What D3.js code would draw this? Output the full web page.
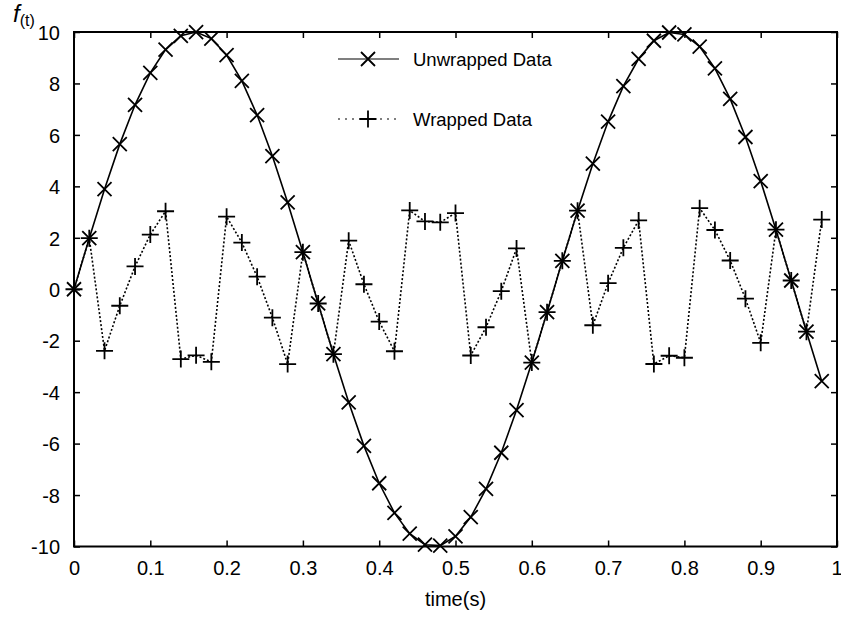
<!DOCTYPE html>
<html><head><meta charset="utf-8">
<script src="https://cdn.jsdelivr.net/npm/d3@7"></script>
<style>body{margin:0;background:#fff}svg{display:block}text{font-family:"Liberation Sans",Arial,sans-serif;fill:#000}</style>
</head><body><svg id="c" width="841" height="621"></svg>
<script>
const times = [0,0.02,0.04,0.06,0.08,0.10,0.12,0.14,0.16,0.18,0.20,0.22,0.24,0.26,0.28,0.30,0.32,0.34,0.36,0.38,0.40,0.42,0.44,0.46,0.48,0.50,0.52,0.54,0.56,0.58,0.60,0.62,0.64,0.66,0.68,0.70,0.72,0.74,0.76,0.78,0.80,0.82,0.84,0.86,0.88,0.90,0.92,0.94,0.96,0.98];
const unwrapped = [0,1.985,3.891,5.641,7.169,8.409,9.316,9.852,9.997,9.743,9.103,8.098,6.771,5.177,3.375,1.440,-0.553,-2.523,-4.394,-6.088,-7.541,-8.694,-9.503,-9.931,-9.965,-9.603,-8.858,-7.761,-6.356,-4.697,-2.850,-0.891,1.104,3.054,4.883,6.518,7.893,8.957,9.660,9.981,9.904,9.435,8.587,7.400,5.918,4.202,2.317,0.340,-1.650,-3.575];
const wrapped = [0,1.985,-2.392,-0.642,0.886,2.126,3.033,-2.714,-2.569,-2.823,2.820,1.815,0.488,-1.106,-2.908,1.440,-0.553,-2.523,1.889,0.195,-1.258,-2.411,3.063,2.635,2.601,2.963,-2.575,-1.478,-0.073,1.586,-2.850,-0.891,1.104,3.054,-1.400,0.235,1.610,2.674,-2.906,-2.585,-2.662,3.152,2.304,1.117,-0.365,-2.081,2.317,0.340,-1.650,2.708];
const xTicks = [0,0.1,0.2,0.3,0.4,0.5,0.6,0.7,0.8,0.9,1];
const xTickLabels = ["0","0.1","0.2","0.3","0.4","0.5","0.6","0.7","0.8","0.9","1"];
const yTicks = [-10,-8,-6,-4,-2,0,2,4,6,8,10];
const yTickLabels = ["-10","-8","-6","-4","-2","0","2","4","6","8","10"];
const seriesNames = ["Unwrapped Data","Wrapped Data"];

const L=74,R=837,T=32,B=546.5;
const svg=d3.select("#c");
const x=d3.scaleLinear().domain([0,1]).range([L,R]);
const y=d3.scaleLinear().domain([-10,10]).range([B,T]);

const gx=svg.append("g").attr("transform",`translate(0,${B})`).call(d3.axisBottom(x).tickValues(xTicks).tickSize(-6).tickPadding(14).tickFormat((d,i)=>xTickLabels[i]));
const gxt=svg.append("g").attr("transform",`translate(0,${T})`).call(d3.axisTop(x).tickValues(xTicks).tickSize(-6).tickFormat(""));
const gy=svg.append("g").attr("transform",`translate(${L},0)`).call(d3.axisLeft(y).tickValues(yTicks).tickSize(-6).tickPadding(14).tickFormat((d,i)=>yTickLabels[i]));
const gyr=svg.append("g").attr("transform",`translate(${R},0)`).call(d3.axisRight(y).tickValues(yTicks).tickSize(-6).tickFormat(""));
[gx,gxt,gy,gyr].forEach(g=>{g.select(".domain").remove();g.selectAll(".tick line").attr("stroke","#000").attr("stroke-width",1.5);});
gx.selectAll(".tick text").attr("font-size",20).attr("font-family","Liberation Sans, Arial, sans-serif").attr("dy","0.71em");
gx.selectAll(".tick text").filter((d,i)=>i===xTicks.length-1).attr("text-anchor","end").attr("dx",5);
gy.selectAll(".tick text").attr("font-size",20).attr("font-family","Liberation Sans, Arial, sans-serif").attr("dy","0.36em");
svg.append("rect").attr("x",L).attr("y",T).attr("width",R-L).attr("height",B-T).attr("fill","none").attr("stroke","#000").attr("stroke-width",2);

const pts1=times.map((t,i)=>[t,unwrapped[i]]);
const pts2=times.map((t,i)=>[t,wrapped[i]]);
const line=d3.line().x(d=>x(d[0])).y(d=>y(d[1]));

svg.append("path").attr("d",line(pts2)).attr("fill","none").attr("stroke","#000").attr("stroke-width",1.6).attr("stroke-dasharray","2,2");
svg.append("path").attr("d",line(pts1)).attr("fill","none").attr("stroke","#000").attr("stroke-width",1.6);

const cross=(cx,cy,s)=>`M${cx-s},${cy-s}L${cx+s},${cy+s}M${cx-s},${cy+s}L${cx+s},${cy-s}`;
const plus=(cx,cy,s)=>`M${cx-s},${cy}L${cx+s},${cy}M${cx},${cy-s}L${cx},${cy+s}`;
svg.append("g").selectAll("path").data(pts1).join("path").attr("d",d=>cross(x(d[0]),y(d[1]),7)).attr("stroke","#000").attr("stroke-width",1.8).attr("fill","none");
svg.append("g").selectAll("path").data(pts2).join("path").attr("d",d=>plus(x(d[0]),y(d[1]),8.5)).attr("stroke","#000").attr("stroke-width",1.8).attr("fill","none");

const lg=svg.append("g");
lg.append("line").attr("x1",338).attr("x2",399).attr("y1",59).attr("y2",59).attr("stroke","#000").attr("stroke-width",1.2);
lg.append("path").attr("d",cross(368,59,7)).attr("stroke","#000").attr("stroke-width",1.8);
lg.append("text").attr("x",413).attr("y",65.5).attr("font-size",18.5).text(seriesNames[0]);
lg.append("line").attr("x1",338).attr("x2",399).attr("y1",119).attr("y2",119).attr("stroke","#000").attr("stroke-width",1.2).attr("stroke-dasharray","2,5");
lg.append("path").attr("d",plus(368,119,8.5)).attr("stroke","#000").attr("stroke-width",1.8);
lg.append("text").attr("x",413).attr("y",125.5).attr("font-size",18.5).text(seriesNames[1]);

svg.append("text").attr("x",(L+R)/2).attr("y",606).attr("text-anchor","middle").attr("font-size",20).text("time(s)");
const yl=svg.append("text").attr("x",13).attr("y",22);
yl.append("tspan").attr("font-style","italic").attr("font-size",24).text("f");
yl.append("tspan").attr("font-size",16).attr("dy",4).text("(t)");
</script></body></html>
